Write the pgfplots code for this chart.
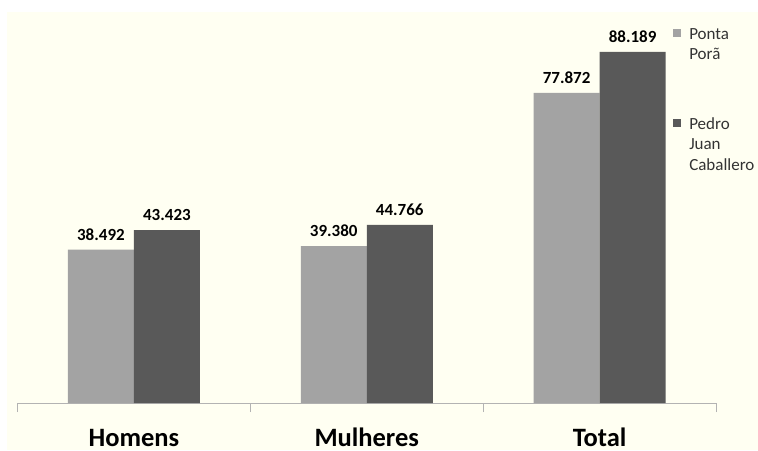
\documentclass[border=0pt]{standalone}
\usepackage{pgfplots}
\pgfplotsset{compat=1.18}
\usepackage{fontspec}
\setmainfont{Carlito}
\definecolor{cream}{HTML}{FFFFF2}
\definecolor{lightbar}{HTML}{A3A3A3}
\definecolor{darkbar}{HTML}{595959}
\definecolor{axisgray}{HTML}{B3B3B3}
\begin{document}
\begin{tikzpicture}
\useasboundingbox (0,0) rectangle (758pt,450pt);
\fill[white] (0,0) rectangle (758pt,450pt);
\fill[cream] (7pt,0) rectangle (758pt,438pt);
\begin{axis}[
  at={(17.5pt,47pt)}, anchor=south west,
  scale only axis, width=698.5pt, height=391pt,
  xmin=-0.5, xmax=2.5, ymin=0, ymax=98.2,
  axis x line*=bottom, axis y line=none,
  x axis line style={draw=axisgray, line width=0.8pt},
  xtick={0,1,2}, xticklabels={Homens,Mulheres,Total},
  major tick length=0pt,
  extra x ticks={-0.5,0.5,1.5,2.5}, extra x tick labels={},
  extra x tick style={major tick length=9pt, tick align=outside, tick style={draw=axisgray, line width=0.8pt}},
  xticklabel style={font=\fontsize{26.5}{28}\selectfont\bfseries, anchor=base, yshift=-43.5pt, inner sep=0pt},
  ybar=0pt, bar width=66pt,
  nodes near coords, point meta=explicit symbolic,
  nodes near coords style={font=\fontsize{17}{18}\selectfont\bfseries, anchor=base, yshift=9.5pt, inner sep=0pt, text=black},
  clip=false,
  legend style={at={(axis description cs:0.9385,0.959)}, anchor=north west, draw=none, fill=none,
    font=\fontsize{17}{20.5}\selectfont, cells={anchor=base west}, nodes={inner sep=0pt},
    row sep=77pt, column sep=8pt, inner sep=0pt, text=black!80},
]
\addplot[fill=lightbar, draw=none, legend image code/.code={\fill[lightbar] (0pt,2pt) rectangle (8pt,10pt);}]
  coordinates {(0,38.492)[38.492] (1,39.380)[39.380] (2,77.872)[77.872]};
\addlegendentry{\parbox[t]{80pt}{Ponta\\Porã}}
\addplot[fill=darkbar, draw=none, legend image code/.code={\fill[darkbar] (0pt,2pt) rectangle (8pt,10pt);}]
  coordinates {(0,43.423)[43.423] (1,44.766)[44.766] (2,88.189)[88.189]};
\addlegendentry{\parbox[t]{80pt}{Pedro\\Juan\\Caballero}}
\end{axis}
\end{tikzpicture}
\end{document}
